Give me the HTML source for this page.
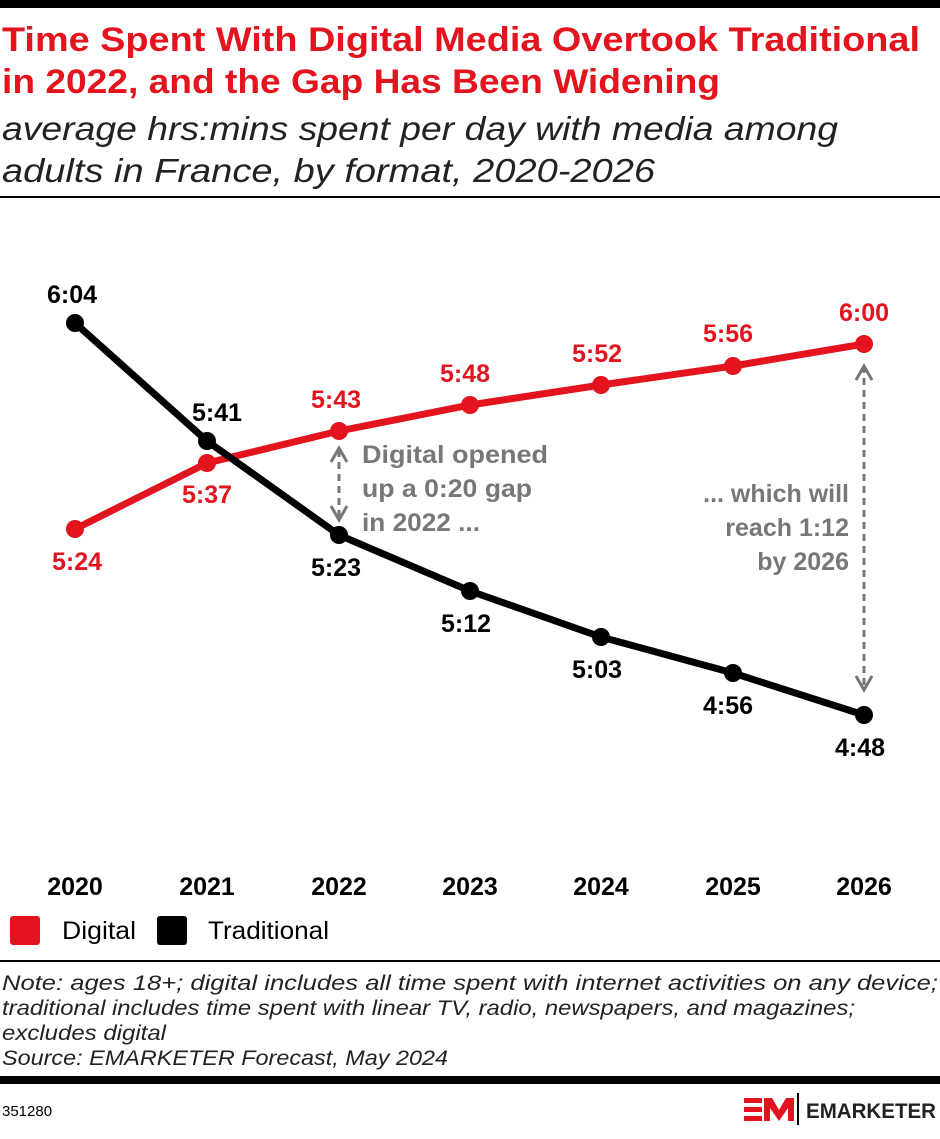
<!DOCTYPE html>
<html><head><meta charset="utf-8"><style>
body{margin:0;background:#fff;width:940px;height:1134px;overflow:hidden;font-family:"Liberation Sans",sans-serif}
</style></head><body>
<svg width="940" height="1134" xmlns="http://www.w3.org/2000/svg" font-family="Liberation Sans, sans-serif">
<rect x="0" y="0" width="940" height="8" fill="#000"/>
<text x="2" y="51" font-size="34" font-weight="bold" fill="#e3141e" textLength="918" lengthAdjust="spacingAndGlyphs">Time Spent With Digital Media Overtook Traditional</text>
<text x="2" y="93" font-size="34" font-weight="bold" fill="#e3141e" textLength="718" lengthAdjust="spacingAndGlyphs">in 2022, and the Gap Has Been Widening</text>
<text x="2" y="140" font-size="33" font-style="italic" fill="#222" textLength="836" lengthAdjust="spacingAndGlyphs">average hrs:mins spent per day with media among</text>
<text x="2" y="182" font-size="33" font-style="italic" fill="#222" textLength="653" lengthAdjust="spacingAndGlyphs">adults in France, by format, 2020-2026</text>
<rect x="0" y="196" width="940" height="2" fill="#000"/>
<g stroke="#777" stroke-width="3" fill="none">
<line x1="339" y1="450" x2="339" y2="518" stroke-dasharray="7,5"/>
<polyline points="331,462 339,448 347,462"/><polyline points="331,506 339,520 347,506"/>
<line x1="864" y1="366" x2="864" y2="690" stroke-dasharray="7,5"/>
<polyline points="856,380 864,366 872,380"/><polyline points="856,676 864,690 872,676"/>
</g>
<g font-size="25" font-weight="bold" fill="#777">
<text x="362" y="463" textLength="186" lengthAdjust="spacingAndGlyphs">Digital opened</text><text x="362" y="497" textLength="170" lengthAdjust="spacingAndGlyphs">up a 0:20 gap</text><text x="362" y="531" textLength="118" lengthAdjust="spacingAndGlyphs">in 2022 ...</text>
<text x="849" y="502" text-anchor="end">... which will</text><text x="849" y="536" text-anchor="end">reach 1:12</text><text x="849" y="570" text-anchor="end">by 2026</text>
</g>
<polyline points="75,529 207,463 339,431 470,405 601,385 733,366 864,344" fill="none" stroke="#e3141e" stroke-width="7"/>
<polyline points="75,323 207,441 339,535 470,591 601,637 733,673 864,715" fill="none" stroke="#000" stroke-width="7"/>
<g fill="#e3141e"><circle cx="75" cy="529" r="9"/><circle cx="207" cy="463" r="9"/><circle cx="339" cy="431" r="9"/><circle cx="470" cy="405" r="9"/><circle cx="601" cy="385" r="9"/><circle cx="733" cy="366" r="9"/><circle cx="864" cy="344" r="9"/></g>
<g fill="#000"><circle cx="75" cy="323" r="9"/><circle cx="207" cy="441" r="9"/><circle cx="339" cy="535" r="9"/><circle cx="470" cy="591" r="9"/><circle cx="601" cy="637" r="9"/><circle cx="733" cy="673" r="9"/><circle cx="864" cy="715" r="9"/></g>
<g font-size="25" font-weight="bold" text-anchor="middle" fill="#e3141e">
<text x="77" y="570">5:24</text><text x="207" y="503">5:37</text><text x="336" y="408">5:43</text><text x="465" y="382">5:48</text><text x="597" y="362">5:52</text><text x="728" y="342">5:56</text><text x="864" y="321">6:00</text>
</g>
<g font-size="25" font-weight="bold" text-anchor="middle" fill="#000">
<text x="72" y="303">6:04</text><text x="217" y="421">5:41</text><text x="336" y="576">5:23</text><text x="466" y="632">5:12</text><text x="597" y="678">5:03</text><text x="728" y="714">4:56</text><text x="860" y="756">4:48</text>
</g>
<g font-size="25" font-weight="bold" text-anchor="middle" fill="#000">
<text x="75" y="895">2020</text><text x="207" y="895">2021</text><text x="339" y="895">2022</text><text x="470" y="895">2023</text><text x="601" y="895">2024</text><text x="733" y="895">2025</text><text x="864" y="895">2026</text>
</g>
<rect x="10" y="916" width="30" height="29" rx="3" fill="#e3141e"/>
<text x="62" y="939" font-size="25" fill="#000" textLength="74" lengthAdjust="spacingAndGlyphs">Digital</text>
<rect x="157" y="916" width="30" height="29" rx="3" fill="#000"/>
<text x="208" y="939" font-size="25" fill="#000" textLength="121" lengthAdjust="spacingAndGlyphs">Traditional</text>
<rect x="0" y="960" width="940" height="2" fill="#000"/>
<g font-size="21" font-style="italic" fill="#222">
<text x="2" y="990" textLength="936" lengthAdjust="spacingAndGlyphs">Note: ages 18+; digital includes all time spent with internet activities on any device;</text>
<text x="2" y="1015" textLength="853" lengthAdjust="spacingAndGlyphs">traditional includes time spent with linear TV, radio, newspapers, and magazines;</text>
<text x="2" y="1040" textLength="164" lengthAdjust="spacingAndGlyphs">excludes digital</text>
<text x="2" y="1065" textLength="446" lengthAdjust="spacingAndGlyphs">Source: EMARKETER Forecast, May 2024</text>
</g>
<rect x="0" y="1076" width="940" height="8" fill="#000"/>
<text x="2" y="1116" font-size="15" fill="#000">351280</text>
<g fill="#e3141e">
<rect x="744" y="1098" width="18" height="5"/><rect x="744" y="1107" width="18" height="5"/><rect x="744" y="1116" width="18" height="5"/>
<polygon points="764,1098 772,1098 779,1110 786,1098 794,1098 794,1121 788,1121 788,1108 779,1121 770,1108 770,1121 764,1121"/>
</g>
<rect x="797" y="1093" width="2" height="32" fill="#000"/>
<text x="806" y="1118" font-size="21" font-weight="bold" fill="#222" textLength="130" lengthAdjust="spacingAndGlyphs">EMARKETER</text>
</svg>
</body></html>
